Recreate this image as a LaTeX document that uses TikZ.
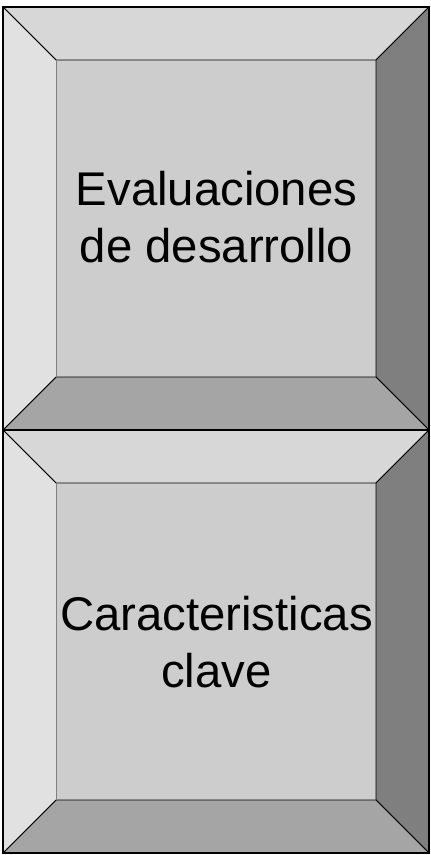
\documentclass[tikz,border=0pt]{standalone}
\usepackage{fontspec}
\setmainfont{Liberation Sans}
\definecolor{bvleft}{HTML}{E1E1E1}
\definecolor{bvtop}{HTML}{D7D7D7}
\definecolor{bvright}{HTML}{7F7F7F}
\definecolor{bvbottom}{HTML}{A5A5A5}
\definecolor{bvface}{HTML}{CDCDCD}
\tikzset{
  facet/.style={draw=black, line width=0.8pt, line join=miter},
  boxlabel/.style={align=center, font=\fontsize{47.3}{57.5}\selectfont, text=black, inner sep=0pt}
}
\newcommand{\bevelbox}[5]{% x0 y0 x1 y1 bevel
  \pgfmathsetmacro{\xa}{#1+#5}\pgfmathsetmacro{\ya}{#2+#5}
  \pgfmathsetmacro{\xb}{#3-#5}\pgfmathsetmacro{\yb}{#4-#5}
  \fill[bvface] (\xa,\ya) rectangle (\xb,\yb);
  \filldraw[facet, fill=bvtop] (#1,#2) -- (#3,#2) -- (\xb,\ya) -- (\xa,\ya) -- cycle;
  \filldraw[facet, fill=bvright] (#3,#2) -- (#3,#4) -- (\xb,\yb) -- (\xb,\ya) -- cycle;
  \filldraw[facet, fill=bvbottom] (#1,#4) -- (#3,#4) -- (\xb,\yb) -- (\xa,\yb) -- cycle;
  \fill[bvleft] (#1,#2) -- (\xa,\ya) -- (\xa,\yb) -- (#1,#4) -- cycle;
  \draw[facet] (#1,#2) -- (\xa,\ya);
  \draw[facet] (#1,#4) -- (\xa,\yb);
  \draw[line width=0.8pt, draw=gray] (\xa,\ya) -- (\xa,\yb);
  \draw[line width=1.6pt] (#1,#2) rectangle (#3,#4);
}
\begin{document}
\begin{tikzpicture}[x=1pt, y=-1pt]
  \useasboundingbox (0,0) rectangle (431,855);
  \bevelbox{3}{7}{429}{430}{53}
  \bevelbox{3}{430}{429}{853}{53}
  \node[boxlabel] (top) at (216.5,217) {Evaluaciones\\de desarrollo};
  \node[boxlabel] (bottom) at (216.5,642) {Caracteristicas\\clave};
\end{tikzpicture}
\end{document}
